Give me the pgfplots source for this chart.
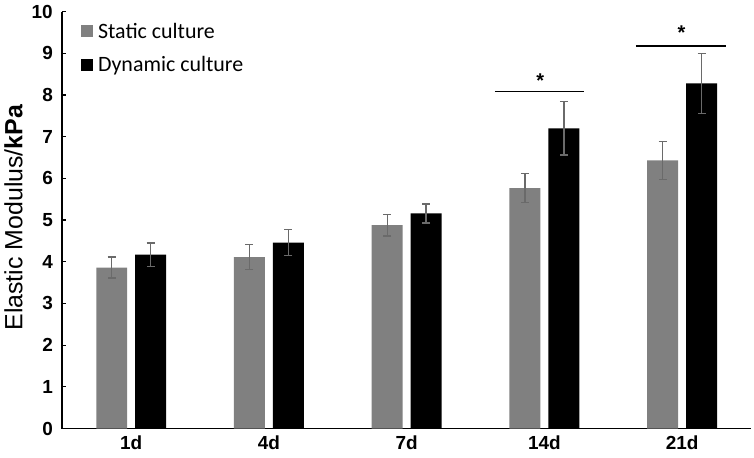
\documentclass[border=0pt]{standalone}
\usepackage{pgfplots}
\usepackage{pgfplotstable}
\pgfplotsset{compat=1.18}
\usepackage{fontspec}
\setmainfont{Liberation Sans}
\newfontfamily\calfont{Carlito}
\definecolor{sgray}{HTML}{808080}
\definecolor{egray}{HTML}{6A6A6A}
\pgfplotstableread{
x y e
0 3.86 0.25
1 4.11 0.30
2 4.88 0.26
3 5.77 0.35
4 6.43 0.45
}\statictab
\pgfplotstableread{
x y e
0 4.17 0.28
1 4.46 0.31
2 5.16 0.23
3 7.20 0.64
4 8.28 0.72
}\dyntab
\begin{document}
\begin{tikzpicture}
\begin{axis}[name=ax, scale only axis, width=688.7bp, height=416.8bp,
  xmin=-0.5, xmax=4.5, ymin=0, ymax=10,
  axis x line*=bottom, axis y line*=left,
  axis line style={line width=1.6bp, black},
  ybar, bar width=0.225,
  xtick={0,...,4}, xticklabels={1d,4d,7d,14d,21d},
  ytick={0,...,10},
  tick align=inside, major tick length=4bp,
  x tick style={draw=none},
  y tick style={line width=1.2bp, black},
  /pgf/number format/assume math mode=true,
  ticklabel style={font=\bfseries\fontsize{19}{22}\selectfont},
  xticklabel style={yshift=-4bp},
  yticklabel style={xshift=-6bp},
  ylabel={Elastic Modulus/\textbf{kPa}},
  ylabel style={font=\fontsize{25}{28}\selectfont, at={(rel axis cs:-0.0709,0.506)}, anchor=center},
  legend image code/.code={\draw[#1,draw=none] (0bp,-6bp) rectangle (12bp,6bp); \path (15bp,0bp);},
  legend style={at={(rel axis cs:0.027,0.978)}, anchor=north west, draw=none, fill=none,
    font=\calfont\fontsize{22}{24}\selectfont, row sep=13bp, inner sep=0pt,
    nodes={inner sep=2bp}},
  legend cell align=left,
  clip=false,
]
\addplot[fill=sgray, draw=none, bar shift=-0.141,
  error bars/.cd, y dir=both, y explicit,
  error bar style={egray, line width=1.4bp},
  error mark options={rotate=90, mark size=4bp, egray, line width=1.4bp}]
  table[x=x, y=y, y error=e]{\statictab};
\addlegendentry{Static culture}
\addplot[fill=black, draw=none, bar shift=0.141,
  error bars/.cd, y dir=both, y explicit,
  error bar style={egray, line width=1.4bp},
  error mark options={rotate=90, mark size=4bp, egray, line width=1.4bp}]
  table[x=x, y=y, y error=e]{\dyntab};
\addlegendentry{Dynamic culture}
\draw[line width=1.5bp] (axis cs:2.64,8.09) -- (axis cs:3.29,8.09);
\node[font=\bfseries\fontsize{20}{22}\selectfont] at (axis cs:2.97,8.34) {*};
\draw[line width=1.5bp] (axis cs:3.665,9.18) -- (axis cs:4.316,9.18);
\node[font=\bfseries\fontsize{20}{22}\selectfont] at (axis cs:3.996,9.50) {*};
\end{axis}
\pgfresetboundingbox
\path[use as bounding box] ([shift={(-62.3bp,-29.5bp)}]ax.south west) rectangle ([shift={(691.7bp,428.5bp)}]ax.south west);
\end{tikzpicture}
\end{document}
